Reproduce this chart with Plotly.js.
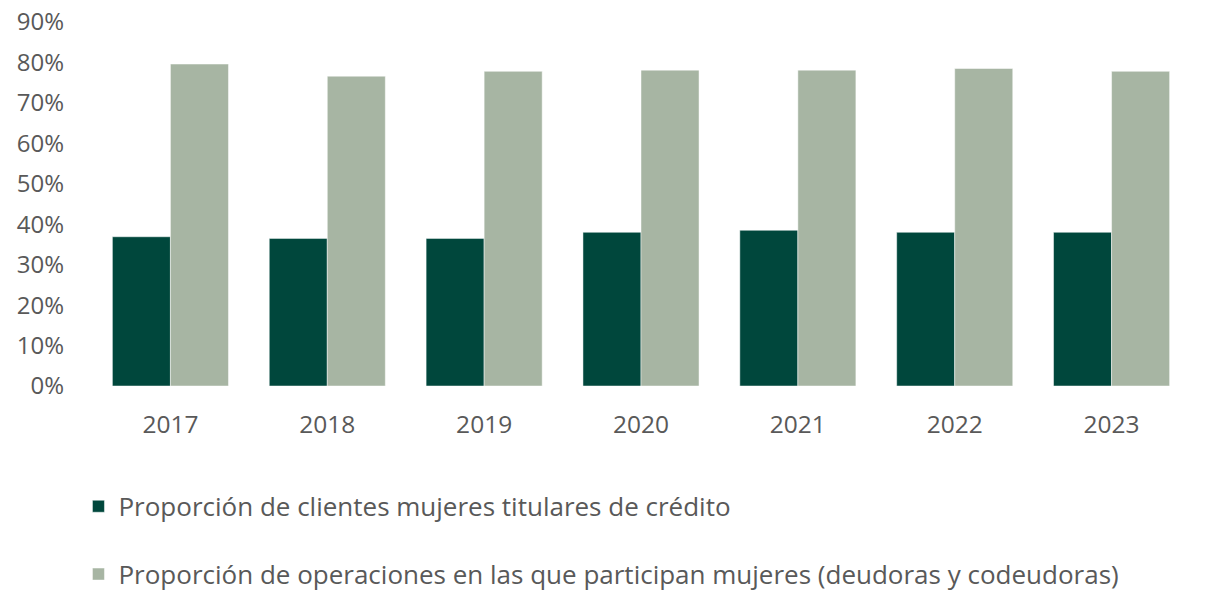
<!DOCTYPE html>
<html>
<head>
<meta charset="utf-8">
<script src="https://cdn.plot.ly/plotly-3.0.1.min.js"></script>
<style>html,body{margin:0;padding:0;background:#fff}#chart{width:1207px;height:591px}</style>
</head>
<body>
<div id="chart"></div>
<script>
const years = ['2017','2018','2019','2020','2021','2022','2023'];
const titulares = [0.369, 0.365, 0.365, 0.380, 0.385, 0.380, 0.380];
const operaciones = [0.796, 0.766, 0.778, 0.781, 0.781, 0.785, 0.778];
const seriesNames = [
  'Proporción de clientes mujeres titulares de crédito',
  'Proporción de operaciones en las que participan mujeres (deudoras y codeudoras)'
];
const tickVals = [0,0.1,0.2,0.3,0.4,0.5,0.6,0.7,0.8,0.9];
const tickText = ['0%','10%','20%','30%','40%','50%','60%','70%','80%','90%'];

const FONT = '"Open Sans", Lato, "Liberation Sans", sans-serif';
const data = [
  {type:'bar', x:years, y:titulares, name:seriesNames[0], legendgroup:'a',
   marker:{color:'#00473C', line:{color:'rgba(255,255,255,0.6)', width:0.8}}},
  {type:'bar', x:years, y:operaciones, name:seriesNames[1], legendgroup:'b',
   marker:{color:'#A7B5A3', line:{color:'rgba(255,255,255,0.6)', width:0.8}}}
];
const layout = {
  width:1207, height:591,
  margin:{l:92, r:17, t:22, b:205, autoexpand:false},
  paper_bgcolor:'#fff', plot_bgcolor:'#fff',
  barmode:'group', bargap:0.26, bargroupgap:0,
  font:{family:FONT, color:'#595959', size:24},
  xaxis:{type:'category', showgrid:false, showline:false, zeroline:false, ticks:'',
         tickangle:0, automargin:false, ticklabelstandoff:21, tickfont:{size:24.5, color:'#595959'}},
  yaxis:{range:[0,0.9], tickvals:tickVals, ticktext:tickText, showgrid:false, automargin:false,
         zeroline:false, showline:false, ticks:'', ticklabelstandoff:27,
         tickfont:{size:24, color:'#595959'}},
  showlegend:true,
  legend:{orientation:'v', xref:'container', yref:'container', x:0.065, y:0.183,
          xanchor:'left', yanchor:'top', traceorder:'grouped', tracegroupgap:31,
          font:{size:26, color:'#595959'}, bgcolor:'rgba(0,0,0,0)'}
};
Plotly.newPlot('chart', data, layout, {displayModeBar:false, staticPlot:true});
</script>
</body>
</html>
